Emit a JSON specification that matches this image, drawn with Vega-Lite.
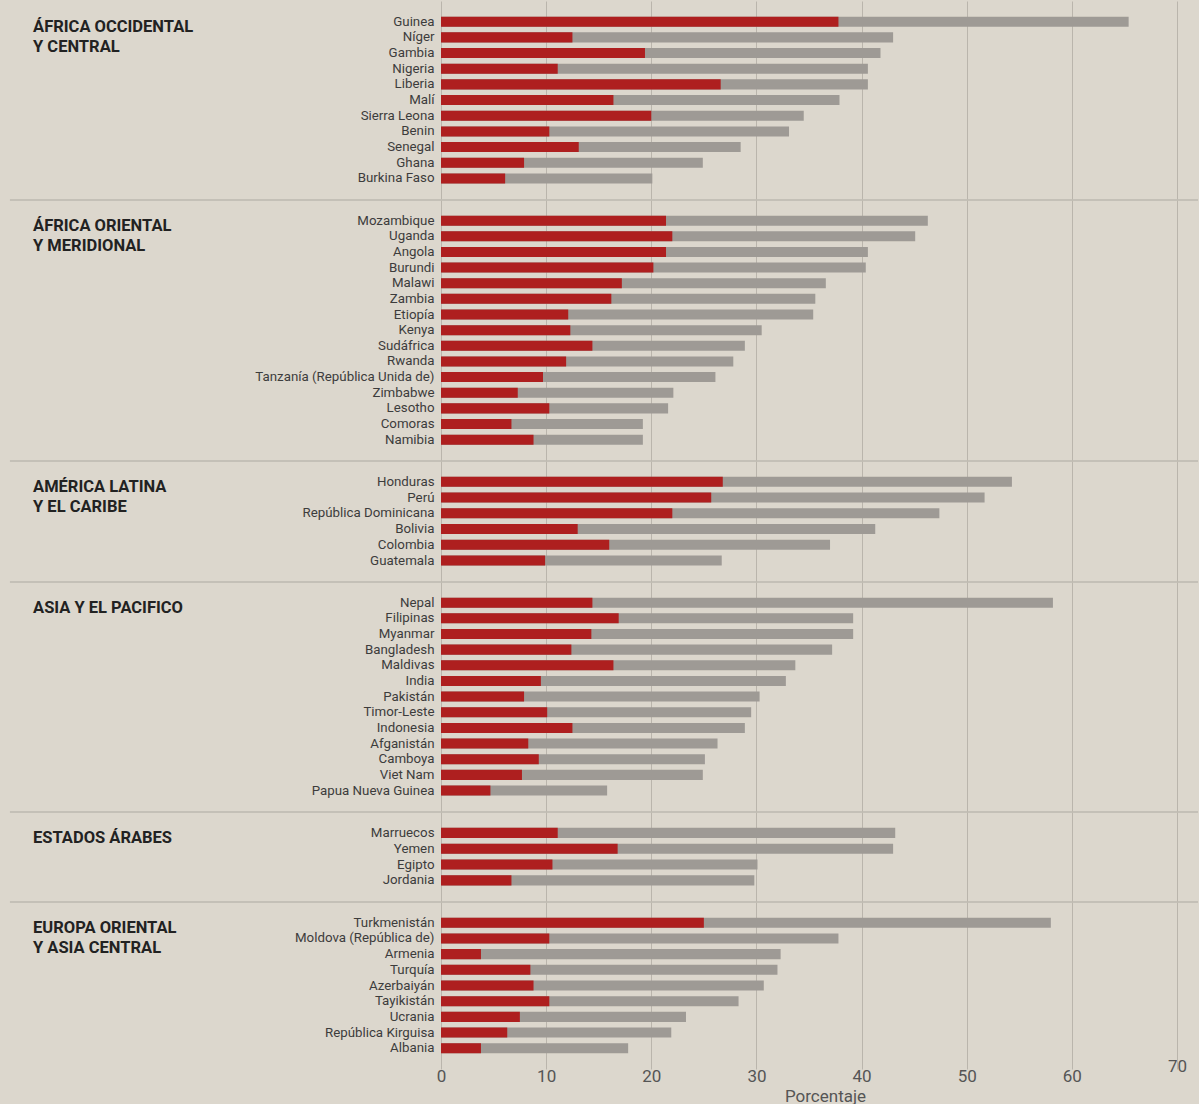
{
  "$schema": "https://vega.github.io/schema/vega-lite/v6.json",
  "background": "#dcd7cd",
  "padding": {"left": 9, "top": 1, "right": 0, "bottom": 0},
  "data": {
    "values": [
      {"region": "ÁFRICA OCCIDENTAL Y CENTRAL", "country": "Guinea", "severe": 37.8, "total": 65.4},
      {"region": "ÁFRICA OCCIDENTAL Y CENTRAL", "country": "Níger", "severe": 12.5, "total": 43.0},
      {"region": "ÁFRICA OCCIDENTAL Y CENTRAL", "country": "Gambia", "severe": 19.4, "total": 41.8},
      {"region": "ÁFRICA OCCIDENTAL Y CENTRAL", "country": "Nigeria", "severe": 11.1, "total": 40.6},
      {"region": "ÁFRICA OCCIDENTAL Y CENTRAL", "country": "Liberia", "severe": 26.6, "total": 40.6},
      {"region": "ÁFRICA OCCIDENTAL Y CENTRAL", "country": "Malí", "severe": 16.4, "total": 37.9},
      {"region": "ÁFRICA OCCIDENTAL Y CENTRAL", "country": "Sierra Leona", "severe": 20.0, "total": 34.5},
      {"region": "ÁFRICA OCCIDENTAL Y CENTRAL", "country": "Benin", "severe": 10.3, "total": 33.1},
      {"region": "ÁFRICA OCCIDENTAL Y CENTRAL", "country": "Senegal", "severe": 13.1, "total": 28.5},
      {"region": "ÁFRICA OCCIDENTAL Y CENTRAL", "country": "Ghana", "severe": 7.9, "total": 24.9},
      {"region": "ÁFRICA OCCIDENTAL Y CENTRAL", "country": "Burkina Faso", "severe": 6.1, "total": 20.1},
      {"region": "ÁFRICA ORIENTAL Y MERIDIONAL", "country": "Mozambique", "severe": 21.4, "total": 46.3},
      {"region": "ÁFRICA ORIENTAL Y MERIDIONAL", "country": "Uganda", "severe": 22.0, "total": 45.1},
      {"region": "ÁFRICA ORIENTAL Y MERIDIONAL", "country": "Angola", "severe": 21.4, "total": 40.6},
      {"region": "ÁFRICA ORIENTAL Y MERIDIONAL", "country": "Burundi", "severe": 20.2, "total": 40.4},
      {"region": "ÁFRICA ORIENTAL Y MERIDIONAL", "country": "Malawi", "severe": 17.2, "total": 36.6},
      {"region": "ÁFRICA ORIENTAL Y MERIDIONAL", "country": "Zambia", "severe": 16.2, "total": 35.6},
      {"region": "ÁFRICA ORIENTAL Y MERIDIONAL", "country": "Etiopía", "severe": 12.1, "total": 35.4},
      {"region": "ÁFRICA ORIENTAL Y MERIDIONAL", "country": "Kenya", "severe": 12.3, "total": 30.5},
      {"region": "ÁFRICA ORIENTAL Y MERIDIONAL", "country": "Sudáfrica", "severe": 14.4, "total": 28.9},
      {"region": "ÁFRICA ORIENTAL Y MERIDIONAL", "country": "Rwanda", "severe": 11.9, "total": 27.8},
      {"region": "ÁFRICA ORIENTAL Y MERIDIONAL", "country": "Tanzanía (República Unida de)", "severe": 9.7, "total": 26.1},
      {"region": "ÁFRICA ORIENTAL Y MERIDIONAL", "country": "Zimbabwe", "severe": 7.3, "total": 22.1},
      {"region": "ÁFRICA ORIENTAL Y MERIDIONAL", "country": "Lesotho", "severe": 10.3, "total": 21.6},
      {"region": "ÁFRICA ORIENTAL Y MERIDIONAL", "country": "Comoras", "severe": 6.7, "total": 19.2},
      {"region": "ÁFRICA ORIENTAL Y MERIDIONAL", "country": "Namibia", "severe": 8.8, "total": 19.2},
      {"region": "AMÉRICA LATINA Y EL CARIBE", "country": "Honduras", "severe": 26.8, "total": 54.3},
      {"region": "AMÉRICA LATINA Y EL CARIBE", "country": "Perú", "severe": 25.7, "total": 51.7},
      {"region": "AMÉRICA LATINA Y EL CARIBE", "country": "República Dominicana", "severe": 22.0, "total": 47.4},
      {"region": "AMÉRICA LATINA Y EL CARIBE", "country": "Bolivia", "severe": 13.0, "total": 41.3},
      {"region": "AMÉRICA LATINA Y EL CARIBE", "country": "Colombia", "severe": 16.0, "total": 37.0},
      {"region": "AMÉRICA LATINA Y EL CARIBE", "country": "Guatemala", "severe": 9.9, "total": 26.7},
      {"region": "ASIA Y EL PACIFICO", "country": "Nepal", "severe": 14.4, "total": 58.2},
      {"region": "ASIA Y EL PACIFICO", "country": "Filipinas", "severe": 16.9, "total": 39.2},
      {"region": "ASIA Y EL PACIFICO", "country": "Myanmar", "severe": 14.3, "total": 39.2},
      {"region": "ASIA Y EL PACIFICO", "country": "Bangladesh", "severe": 12.4, "total": 37.2},
      {"region": "ASIA Y EL PACIFICO", "country": "Maldivas", "severe": 16.4, "total": 33.7},
      {"region": "ASIA Y EL PACIFICO", "country": "India", "severe": 9.5, "total": 32.8},
      {"region": "ASIA Y EL PACIFICO", "country": "Pakistán", "severe": 7.9, "total": 30.3},
      {"region": "ASIA Y EL PACIFICO", "country": "Timor-Leste", "severe": 10.1, "total": 29.5},
      {"region": "ASIA Y EL PACIFICO", "country": "Indonesia", "severe": 12.5, "total": 28.9},
      {"region": "ASIA Y EL PACIFICO", "country": "Afganistán", "severe": 8.3, "total": 26.3},
      {"region": "ASIA Y EL PACIFICO", "country": "Camboya", "severe": 9.3, "total": 25.1},
      {"region": "ASIA Y EL PACIFICO", "country": "Viet Nam", "severe": 7.7, "total": 24.9},
      {"region": "ASIA Y EL PACIFICO", "country": "Papua Nueva Guinea", "severe": 4.7, "total": 15.8},
      {"region": "ESTADOS ÁRABES", "country": "Marruecos", "severe": 11.1, "total": 43.2},
      {"region": "ESTADOS ÁRABES", "country": "Yemen", "severe": 16.8, "total": 43.0},
      {"region": "ESTADOS ÁRABES", "country": "Egipto", "severe": 10.6, "total": 30.1},
      {"region": "ESTADOS ÁRABES", "country": "Jordania", "severe": 6.7, "total": 29.8},
      {"region": "EUROPA ORIENTAL Y ASIA CENTRAL", "country": "Turkmenistán", "severe": 25.0, "total": 58.0},
      {"region": "EUROPA ORIENTAL Y ASIA CENTRAL", "country": "Moldova (República de)", "severe": 10.3, "total": 37.8},
      {"region": "EUROPA ORIENTAL Y ASIA CENTRAL", "country": "Armenia", "severe": 3.8, "total": 32.3},
      {"region": "EUROPA ORIENTAL Y ASIA CENTRAL", "country": "Turquía", "severe": 8.5, "total": 32.0},
      {"region": "EUROPA ORIENTAL Y ASIA CENTRAL", "country": "Azerbaiyán", "severe": 8.8, "total": 30.7},
      {"region": "EUROPA ORIENTAL Y ASIA CENTRAL", "country": "Tayikistán", "severe": 10.3, "total": 28.3},
      {"region": "EUROPA ORIENTAL Y ASIA CENTRAL", "country": "Ucrania", "severe": 7.5, "total": 23.3},
      {"region": "EUROPA ORIENTAL Y ASIA CENTRAL", "country": "República Kirguisa", "severe": 6.3, "total": 21.9},
      {"region": "EUROPA ORIENTAL Y ASIA CENTRAL", "country": "Albania", "severe": 3.8, "total": 17.8}
    ]
  },
  "facet": {
    "row": {
      "field": "region",
      "type": "nominal",
      "title": null,
      "sort": ["ÁFRICA OCCIDENTAL Y CENTRAL", "ÁFRICA ORIENTAL Y MERIDIONAL", "AMÉRICA LATINA Y EL CARIBE", "ASIA Y EL PACIFICO", "ESTADOS ÁRABES", "EUROPA ORIENTAL Y ASIA CENTRAL"],
      "header": {"labels": false, "title": null}
    }
  },
  "spacing": 0,
  "bounds": "flush",
  "resolve": {"scale": {"y": "independent"}},
  "spec": {
    "width": 736,
    "height": {"step": 15.55},
    "layer": [
      {
        "mark": {"type": "bar", "color": "#9e9a95"},
        "encoding": {
          "y": {
            "field": "country",
            "type": "nominal",
            "sort": ["Guinea", "Níger", "Gambia", "Nigeria", "Liberia", "Malí", "Sierra Leona", "Benin", "Senegal", "Ghana", "Burkina Faso", "Mozambique", "Uganda", "Angola", "Burundi", "Malawi", "Zambia", "Etiopía", "Kenya", "Sudáfrica", "Rwanda", "Tanzanía (República Unida de)", "Zimbabwe", "Lesotho", "Comoras", "Namibia", "Honduras", "Perú", "República Dominicana", "Bolivia", "Colombia", "Guatemala", "Nepal", "Filipinas", "Myanmar", "Bangladesh", "Maldivas", "India", "Pakistán", "Timor-Leste", "Indonesia", "Afganistán", "Camboya", "Viet Nam", "Papua Nueva Guinea", "Marruecos", "Yemen", "Egipto", "Jordania", "Turkmenistán", "Moldova (República de)", "Armenia", "Turquía", "Azerbaiyán", "Tayikistán", "Ucrania", "República Kirguisa", "Albania"],
            "scale": {"paddingInner": 0.36, "paddingOuter": 1.05},
            "axis": {"title": null, "domain": false, "ticks": false, "labelPadding": 7, "labelFont": "Roboto", "labelFontSize": 13.3, "labelColor": "#3c3c3c", "labelLimit": 300}
          },
          "x": {
            "field": "total",
            "type": "quantitative",
            "title": "Porcentaje",
            "scale": {"domain": [0, 70], "nice": false},
            "axis": {
              "values": [0, 10, 20, 30, 40, 50, 60, 70],
              "grid": true,
              "gridColor": "#bab5ac",
              "gridWidth": 1,
              "ticks": false,
              "domain": false,
              "labelFont": "Roboto",
              "labelFontSize": 17,
              "labelColor": "#555555",
              "labelBaseline": "top",
              "labelFlush": false,
              "labelPadding": {"condition": {"test": "datum.value === 70", "value": -12}, "value": -2},
              "titleFont": "Roboto",
              "titleFontSize": 17,
              "titleFontWeight": "normal",
              "titleColor": "#555555",
              "titlePadding": 4,
              "titleX": 384,
              "titleAlign": "center"
            }
          }
        }
      },
      {
        "mark": {"type": "bar", "color": "#ae1f1f"},
        "encoding": {
          "y": {"field": "country", "type": "nominal", "sort": ["Guinea", "Níger", "Gambia", "Nigeria", "Liberia", "Malí", "Sierra Leona", "Benin", "Senegal", "Ghana", "Burkina Faso", "Mozambique", "Uganda", "Angola", "Burundi", "Malawi", "Zambia", "Etiopía", "Kenya", "Sudáfrica", "Rwanda", "Tanzanía (República Unida de)", "Zimbabwe", "Lesotho", "Comoras", "Namibia", "Honduras", "Perú", "República Dominicana", "Bolivia", "Colombia", "Guatemala", "Nepal", "Filipinas", "Myanmar", "Bangladesh", "Maldivas", "India", "Pakistán", "Timor-Leste", "Indonesia", "Afganistán", "Camboya", "Viet Nam", "Papua Nueva Guinea", "Marruecos", "Yemen", "Egipto", "Jordania", "Turkmenistán", "Moldova (República de)", "Armenia", "Turquía", "Azerbaiyán", "Tayikistán", "Ucrania", "República Kirguisa", "Albania"]},
          "x": {"field": "severe", "type": "quantitative", "title": "Porcentaje"}
        }
      },
      {
        "transform": [
          {"aggregate": [{"op": "count", "as": "n"}], "groupby": ["region"]},
          {"filter": "datum.region != 'ÁFRICA OCCIDENTAL Y CENTRAL'"}
        ],
        "mark": {"type": "rule", "color": "#bdb8af", "strokeWidth": 1.3},
        "encoding": {
          "x": {"datum": -41},
          "x2": {"datum": 72.0},
          "y": {"value": 0}
        }
      },
      {
        "transform": [
          {"joinaggregate": [{"op": "max", "field": "total", "as": "maxTotal"}], "groupby": ["region"]},
          {"filter": "datum.total == datum.maxTotal"}
        ],
        "mark": {
          "type": "text",
          "align": "left",
          "baseline": "top",
          "dy": -3,
          "font": "Roboto",
          "fontSize": 16.5,
          "fontWeight": "bold",
          "color": "#222222",
          "lineHeight": 20,
          "text": {"expr": "datum.region == 'ASIA Y EL PACIFICO' || datum.region == 'ESTADOS ÁRABES' ? datum.region : split(replace(datum.region, ' Y ', '|Y '), '|')"}
        },
        "encoding": {
          "x": {"datum": -38.8},
          "y": {"field": "country", "type": "nominal", "sort": ["Guinea", "Níger", "Gambia", "Nigeria", "Liberia", "Malí", "Sierra Leona", "Benin", "Senegal", "Ghana", "Burkina Faso", "Mozambique", "Uganda", "Angola", "Burundi", "Malawi", "Zambia", "Etiopía", "Kenya", "Sudáfrica", "Rwanda", "Tanzanía (República Unida de)", "Zimbabwe", "Lesotho", "Comoras", "Namibia", "Honduras", "Perú", "República Dominicana", "Bolivia", "Colombia", "Guatemala", "Nepal", "Filipinas", "Myanmar", "Bangladesh", "Maldivas", "India", "Pakistán", "Timor-Leste", "Indonesia", "Afganistán", "Camboya", "Viet Nam", "Papua Nueva Guinea", "Marruecos", "Yemen", "Egipto", "Jordania", "Turkmenistán", "Moldova (República de)", "Armenia", "Turquía", "Azerbaiyán", "Tayikistán", "Ucrania", "República Kirguisa", "Albania"]}
        }
      }
    ]
  },
  "config": {
    "view": {"stroke": null},
    "font": "Roboto"
  }
}
